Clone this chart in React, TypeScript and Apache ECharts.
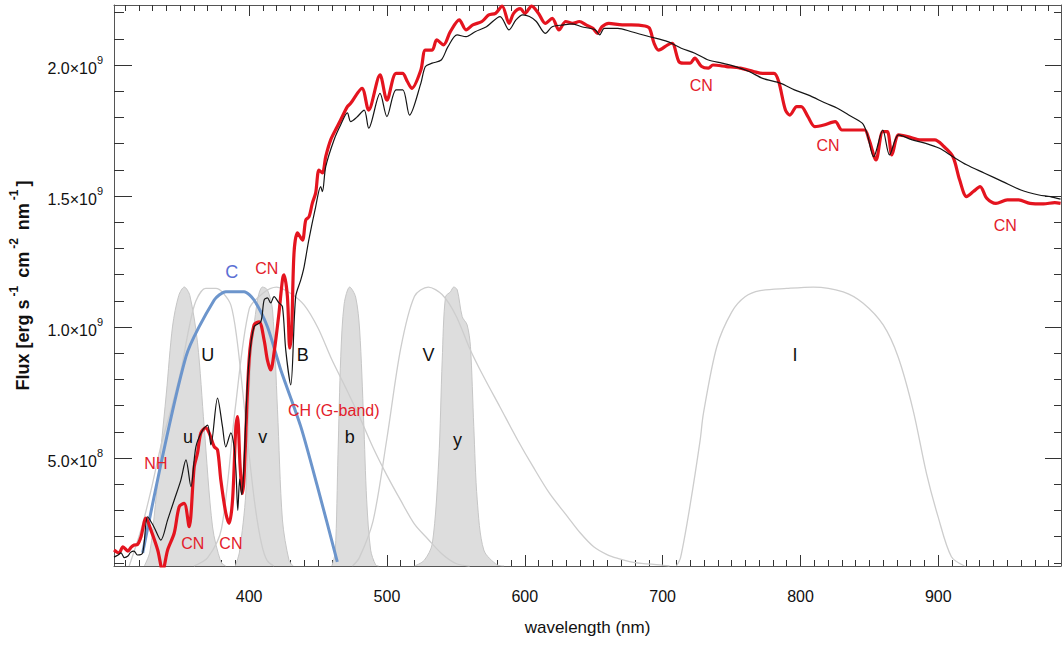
import React, { useEffect, useRef } from "react";
import * as echarts from "echarts";

const FONT = "'Liberation Sans', Arial, Helvetica, sans-serif";

const X_MIN = 302;
const X_MAX = 989;
const Y_MIN = 0.088;
const Y_MAX = 2.229;
const T_MAX = 2.011;

const xMajorTicks = [400, 500, 600, 700, 800, 900];
const xMinorTicks = [310, 320, 330, 340, 350, 360, 370, 380, 390, 410, 420, 430, 440, 450, 460, 470, 480, 490, 510, 520, 530, 540, 550, 560, 570, 580, 590, 610, 620, 630, 640, 650, 660, 670, 680, 690, 710, 720, 730, 740, 750, 760, 770, 780, 790, 810, 820, 830, 840, 850, 860, 870, 880, 890, 910, 920, 930, 940, 950, 960, 970, 980];
const yMajorTicks = [0.5, 1.0, 1.5, 2.0];
const yMinorTicks = [0.1, 0.2, 0.3, 0.4, 0.6, 0.7, 0.8, 0.9, 1.1, 1.2, 1.3, 1.4, 1.6, 1.7, 1.8, 1.9, 2.1, 2.2];

// Flux in units of 1e9 erg s^-1 cm^-2 nm^-1
const blackSpectrum: [number, number][] = [
  [302.0, 0.122], [305, 0.13], [307.1, 0.138], [309.5, 0.12], [312.1, 0.126], [314, 0.14], [316.5, 0.145], [319, 0.13], [322.8, 0.138],
  [326.4, 0.276], [331.0, 0.237], [336.0, 0.187], [340.9, 0.264], [345.7, 0.34], [350.5, 0.416], [354.2, 0.493], [357.8, 0.391],
  [361.4, 0.543], [366.3, 0.607], [369.9, 0.626], [372.3, 0.55], [377.1, 0.729], [380.7, 0.62], [383.1, 0.543], [386.8, 0.596],
  [389.1, 0.543], [390.5, 0.45], [391.8, 0.3], [393.2, 0.42], [394.6, 0.36], [396.0, 0.44], [398, 0.7], [400.0, 0.874],
  [403.6, 1.001], [408.5, 1.02], [410.9, 1.103], [413.3, 1.111], [415.7, 1.092], [418.1, 1.116], [421.7, 1.092], [424.2, 1.078],
  [426.6, 0.912], [430.2, 0.779], [433.8, 1.116], [437.5, 1.18], [439.9, 1.23], [443.3, 1.332], [448.3, 1.459], [451.9, 1.536],
  [453.2, 1.517], [455.6, 1.612], [461.6, 1.714], [466.4, 1.771], [471.3, 1.817], [473.7, 1.784], [478, 1.80], [483.5, 1.828],
  [486.8, 1.759], [495.0, 1.892], [500.0, 1.803], [506.6, 1.905], [511.5, 1.905], [516.4, 1.809], [524.6, 1.93], [527.9, 1.994],
  [532.8, 2.007], [539.4, 2.019], [544.3, 2.07], [550.9, 2.115], [557.4, 2.108], [564.0, 2.127], [572.2, 2.146], [582.1, 2.185],
  [588.6, 2.134], [593.6, 2.172], [598.5, 2.191], [603.4, 2.185], [608.4, 2.166], [614.9, 2.121], [619.9, 2.146], [628.1, 2.153],
  [634.6, 2.157], [641.2, 2.146], [651.1, 2.134], [654.3, 2.115], [657.7, 2.14], [667.5, 2.14], [677.4, 2.127], [690.5, 2.108],
  [703.7, 2.089], [713.5, 2.064], [723.4, 2.045], [733.2, 2.019], [743.1, 2.007], [752.9, 1.994], [762.8, 1.975], [772.6, 1.949],
  [785.7, 1.93], [795.6, 1.905], [805.4, 1.886], [818.5, 1.854], [826.8, 1.835], [835.0, 1.809], [844.8, 1.778], [848.2, 1.74],
  [853.1, 1.65], [859.7, 1.752], [864.6, 1.657], [871.2, 1.733], [881.1, 1.714], [890.9, 1.701], [900.8, 1.682], [910.6, 1.65],
  [920.5, 1.619], [933.6, 1.587], [946.7, 1.555], [959.9, 1.523], [973.0, 1.504], [981.2, 1.498], [988.7, 1.488],
];

const redSpectrum: [number, number][] = [
  [302.0, 0.149], [305.6, 0.138], [308.5, 0.161], [312.1, 0.145], [314.5, 0.16], [316.7, 0.168], [319, 0.17], [321.6, 0.2],
  [325.2, 0.271], [328.8, 0.225], [333.7, 0.149], [337.3, 0.07], [340.9, 0.149], [345.7, 0.214], [349.3, 0.314], [352.9, 0.327],
  [356.5, 0.238], [360.2, 0.467], [362.6, 0.519], [365.0, 0.596], [368.6, 0.615], [371.0, 0.596], [374.7, 0.543], [377.1, 0.531],
  [379.5, 0.416], [383.1, 0.29], [385.5, 0.251], [388.0, 0.34], [390.4, 0.62], [391.6, 0.658], [393.5, 0.467], [395.2, 0.365],
  [396.4, 0.429], [400.0, 0.874], [403.6, 1.008], [407.3, 1.02], [410.9, 0.95], [413.3, 0.874], [415.7, 0.836], [418.1, 0.901],
  [421.7, 1.054], [424.2, 1.18], [425.3, 1.199], [427.8, 1.116], [429.5, 0.92], [430.9, 0.989], [432.6, 1.283], [435.1, 1.359],
  [438.7, 1.332], [441.1, 1.408], [443.5, 1.421], [445.9, 1.473], [448.3, 1.512], [450.7, 1.599], [453.2, 1.588], [455.6, 1.65],
  [459.2, 1.714], [464.0, 1.765], [466.4, 1.79], [471.3, 1.841], [473.7, 1.854], [481.9, 1.911], [486.7, 1.828], [495.0, 1.962],
  [500.0, 1.866], [506.6, 1.968], [511.3, 1.968], [514.8, 1.937], [518.0, 1.911], [524.6, 1.981], [527.9, 2.057], [532.8, 2.057],
  [536.1, 2.096], [541.0, 2.077], [546.0, 2.127], [552.5, 2.172], [557.4, 2.134], [562.3, 2.153], [568.9, 2.166], [573.9, 2.191],
  [578.8, 2.197], [583.6, 2.225], [588.6, 2.159], [591.9, 2.197], [596.8, 2.215], [600.1, 2.197], [605.0, 2.225], [610.0, 2.197],
  [614.9, 2.159], [619.9, 2.178], [624.8, 2.134], [629.7, 2.166], [634.6, 2.159], [639.6, 2.166], [644.5, 2.153], [649.4, 2.14],
  [652.7, 2.121], [656.0, 2.146], [660.9, 2.159], [670.7, 2.153], [677.2, 2.153], [687.2, 2.149], [690.5, 2.14], [693.8, 2.083],
  [697.1, 2.057], [703.7, 2.077], [706.9, 2.083], [711.8, 2.013], [715.1, 2.007], [720.0, 2.007], [723.3, 2.026], [728.3, 1.994],
  [733.2, 1.988], [736.5, 2.0], [746.3, 1.994], [756.2, 1.988], [766.0, 1.975], [772.6, 1.968], [780.8, 1.968], [784.2, 1.937],
  [789.1, 1.828], [792.3, 1.809], [797.3, 1.841], [800.5, 1.841], [805.4, 1.803], [810.4, 1.765], [817.0, 1.771], [825.2, 1.784],
  [830.1, 1.752], [838.3, 1.752], [846.5, 1.752], [849.8, 1.714], [854.8, 1.638], [859.7, 1.746], [863.0, 1.746], [866.3, 1.657],
  [871.2, 1.733], [877.7, 1.727], [887.6, 1.714], [897.4, 1.714], [904.0, 1.689], [910.6, 1.65], [915.5, 1.561], [920.5, 1.498],
  [925.4, 1.517], [930.3, 1.536], [935.2, 1.491], [941.8, 1.472], [950.0, 1.485], [958.3, 1.485], [966.5, 1.472], [976.3, 1.47],
  [984.5, 1.475], [988.7, 1.472],
];

// "C" filter curve, drawn on the flux scale
const cCurve: [number, number][] = [
  [322.8, 0.138], [354.2, 0.887], [374.7, 1.103], [383.1, 1.135], [396.4, 1.135], [403.6, 1.103], [413.3, 1.001],
  [423.0, 0.836], [437.5, 0.62], [449.6, 0.391], [464.0, 0.104],
];

// Filter transmissions (0..1)
const filterU: [number, number][] = [
  [313, 0], [321.6, 0.13], [328.8, 0.27], [336, 0.43], [343.3, 0.56], [350.5, 0.7], [356.3, 0.85], [361.4, 0.95], [368.6, 0.995],
  [375.9, 0.995], [380.9, 0.98], [386.8, 0.935], [391, 0.82], [395.5, 0.62], [400, 0.4], [404.5, 0.21], [409, 0.08], [413, 0.02], [418, 0],
];
const filterB: [number, number][] = [
  [360, 0], [370, 0.03], [380, 0.134], [390, 0.567], [400, 0.92], [410, 0.978], [420, 1.0], [430, 0.978], [440, 0.935], [450, 0.853],
  [460, 0.74], [470, 0.64], [480, 0.536], [490, 0.424], [500, 0.325], [510, 0.235], [520, 0.15], [530, 0.095], [540, 0.043], [550, 0.009], [560, 0],
];
const filterV: [number, number][] = [
  [475, 0], [480, 0.03], [490, 0.163], [500, 0.458], [510, 0.78], [520, 0.967], [530, 1.0], [540, 0.973], [550, 0.898], [560, 0.78],
  [570, 0.68], [582, 0.57], [595, 0.45], [606, 0.356], [618, 0.26], [631, 0.177], [640, 0.12], [650, 0.069], [660, 0.04], [667, 0.028],
  [680, 0.012], [698, 0.004], [705, 0],
];
const filterI: [number, number][] = [
  [710, 0], [713, 0.03], [720, 0.22], [727.2, 0.45], [729.6, 0.547], [739.3, 0.786], [750.2, 0.911], [759.8, 0.965], [770.7, 0.987],
  [790, 0.995], [809.3, 1.0], [831, 0.983], [845.5, 0.942], [860, 0.864], [870.8, 0.75], [881.7, 0.559], [891.4, 0.332], [899.8, 0.177],
  [909.5, 0.033], [919, 0],
];
const filter_u: [number, number][] = [
  [324, 0], [328, 0.05], [332, 0.22], [336, 0.42], [340, 0.62], [344.5, 0.86], [349, 0.97], [353, 1.0], [357, 0.97], [362.6, 0.8],
  [367.4, 0.5], [373.5, 0.14], [379.5, 0.015], [383, 0],
];
const filter_v: [number, number][] = [
  [390, 0], [393, 0.05], [397.6, 0.26], [401.2, 0.738], [406.1, 0.953], [409.7, 1.0], [413.3, 0.99], [417, 0.918], [420.6, 0.56],
  [424.2, 0.165], [429, 0.02], [432, 0],
];
const filter_b: [number, number][] = [
  [460, 0], [462.5, 0.05], [464.5, 0.4], [466.5, 0.75], [469, 0.94], [473, 1.0], [477.3, 0.964], [480.2, 0.846], [483.1, 0.523],
  [485.3, 0.237], [488.2, 0.057], [491.8, 0.004], [494, 0],
];
const filter_y: [number, number][] = [
  [520, 0], [527, 0.02], [532.9, 0.08], [537.6, 0.38], [540.1, 0.738], [542.5, 0.965], [546.1, 0.983], [548.5, 1.0], [551, 0.99],
  [554.6, 0.894], [558.2, 0.864], [560.6, 0.786], [563, 0.5], [565.5, 0.237], [570.3, 0.057], [580, 0.004], [585, 0],
];

const bandLabelTexts = ["U", "B", "V", "I", "u", "v", "b", "y"];
const bandLabelAt: [number, number][] = [
  [370.1, 0.893], [438.9, 0.893], [530.2, 0.893], [796.0, 0.893], [355.6, 0.58], [409.9, 0.58], [473.0, 0.58], [551.2, 0.569],
];
const featureTexts = ["NH", "CN", "CN", "CN", "CH (G-band)", "CN", "CN", "CN"];
const featureAt: [number, number][] = [
  [332.4, 0.481], [359.2, 0.172], [386.8, 0.172], [412.8, 1.225], [461.4, 0.683], [728.0, 1.92], [820.0, 1.691], [948.6, 1.386],
];
const cLabelTexts = ["C"];
const cLabelAt: [number, number][] = [[387.5, 1.21]];

const axisLineStyle = { color: "#555", width: 1 };
const tickLine = { color: "#333", width: 1 };

function yLabel(v: number) {
  if (v < 0.99) return `{a|${(v * 10).toFixed(1)}×10}{s|8}`;
  return `{a|${v.toFixed(1)}×10}{s|9}`;
}

export default function App() {
  const ref = useRef<HTMLDivElement>(null);
  useEffect(() => {
    if (!ref.current) return;
    const chart = echarts.init(ref.current, undefined, { renderer: "svg" });

    const mkX = (position: string, ticks: number[], len: number, line: boolean, labels: boolean, extra: any = {}) => ({
      type: "value",
      position,
      min: X_MIN,
      max: X_MAX,
      splitLine: { show: false },
      axisLine: { show: line, onZero: false, lineStyle: axisLineStyle },
      axisTick: { show: true, inside: true, length: len, customValues: ticks, lineStyle: tickLine },
      axisLabel: labels
        ? { show: true, customValues: ticks, margin: 22, fontSize: 16, color: "#111", fontFamily: FONT }
        : { show: false },
      ...extra,
    });
    const mkY = (position: string, ticks: number[], len: number, line: boolean, labels: boolean, extra: any = {}) => ({
      type: "value",
      position,
      min: Y_MIN,
      max: Y_MAX,
      splitLine: { show: false },
      axisLine: { show: line, onZero: false, lineStyle: axisLineStyle },
      axisTick: { show: true, inside: true, length: len, customValues: ticks, lineStyle: tickLine },
      axisLabel: labels
        ? {
            show: true,
            customValues: ticks,
            margin: 11,
            formatter: yLabel,
            rich: {
              a: { fontSize: 16, fontFamily: FONT, color: "#111", lineHeight: 22, verticalAlign: "bottom" },
              s: { fontSize: 11, fontFamily: FONT, color: "#111", lineHeight: 11, verticalAlign: "top" },
            },
          }
        : { show: false },
      ...extra,
    });

    const filled = (data: [number, number][]) => ({
      type: "line",
      xAxisIndex: 0,
      yAxisIndex: 4,
      data,
      smooth: 0.3,
      showSymbol: false,
      symbol: "none",
      silent: true,
      z: 1,
      lineStyle: { color: "#c6c6c6", width: 1 },
      areaStyle: { color: "#dddddd", opacity: 1 },
    });
    const outline = (data: [number, number][]) => ({
      type: "line",
      xAxisIndex: 0,
      yAxisIndex: 4,
      data,
      smooth: 0.3,
      showSymbol: false,
      symbol: "none",
      silent: true,
      z: 2,
      lineStyle: { color: "#cdcdcd", width: 1.3 },
    });
    const labels = (texts: string[], at: [number, number][], style: any) => ({
      type: "scatter",
      xAxisIndex: 0,
      yAxisIndex: 0,
      symbolSize: 0,
      silent: true,
      z: 10,
      data: texts.map((t, i) => ({ value: at[i], name: t })),
      label: {
        show: true,
        position: "inside",
        formatter: "{b}",
        fontFamily: FONT,
        textBorderWidth: 0,
        textBorderColor: "transparent",
        opacity: 1,
        ...style,
      },
    });

    chart.setOption({
      animation: false,
      backgroundColor: "#ffffff",
      grid: { left: 113, top: 5, width: 948, height: 561, containLabel: false },
      xAxis: [
        mkX("bottom", xMajorTicks, 11, true, true, {
          name: "wavelength (nm)",
          nameLocation: "middle",
          nameGap: 53,
          nameTextStyle: { fontSize: 17, color: "#111", fontFamily: FONT },
        }),
        mkX("bottom", xMinorTicks, 6, false, false),
        mkX("top", xMajorTicks, 11, true, false),
        mkX("top", xMinorTicks, 6, false, false),
      ],
      yAxis: [
        mkY("left", yMajorTicks, 18, true, true, {
          name: "{t|Flux [erg s}{s|-1}{t| cm}{s|-2}{t| nm}{s|-1}{t|]}",
          nameLocation: "middle",
          nameRotate: 90,
          nameGap: 82,
          nameTextStyle: {
            rich: {
              t: { fontSize: 18, fontWeight: "bold", fontFamily: FONT, color: "#111", lineHeight: 24, verticalAlign: "bottom" },
              s: { fontSize: 12, fontWeight: "bold", fontFamily: FONT, color: "#111", lineHeight: 12, verticalAlign: "top", padding: [0, 3, 0, 3] },
            },
          },
        }),
        mkY("left", yMinorTicks, 10, false, false),
        mkY("right", yMajorTicks, 16, true, false),
        mkY("right", yMinorTicks, 7, false, false),
        { type: "value", position: "right", min: 0, max: T_MAX, show: false, splitLine: { show: false } },
      ],
      series: [
        filled(filter_u),
        filled(filter_v),
        filled(filter_b),
        filled(filter_y),
        outline(filterU),
        outline(filterB),
        outline(filterV),
        outline(filterI),
        {
          type: "line",
          xAxisIndex: 0,
          yAxisIndex: 0,
          data: cCurve,
          smooth: 0.25,
          showSymbol: false,
          symbol: "none",
          silent: true,
          z: 3,
          lineStyle: { color: "#6c95cc", width: 3 },
        },
        {
          type: "line",
          xAxisIndex: 0,
          yAxisIndex: 0,
          data: redSpectrum,
          smooth: 0.3,
          showSymbol: false,
          symbol: "none",
          silent: true,
          z: 4,
          lineStyle: { color: "#e4141f", width: 3.2 },
        },
        {
          type: "line",
          xAxisIndex: 0,
          yAxisIndex: 0,
          data: blackSpectrum,
          smooth: 0.3,
          showSymbol: false,
          symbol: "none",
          silent: true,
          z: 5,
          lineStyle: { color: "#151515", width: 1.2 },
        },
        labels(bandLabelTexts, bandLabelAt, { fontSize: 18, color: "#111111" }),
        labels(featureTexts, featureAt, { fontSize: 16, color: "#e3202b" }),
        labels(cLabelTexts, cLabelAt, { fontSize: 18, color: "#5b6fd4" }),
      ],
    });
    return () => chart.dispose();
  }, []);
  return <div ref={ref} style={{ position: "absolute", left: 0, top: 0, width: 1062, height: 646 }} />;
}
